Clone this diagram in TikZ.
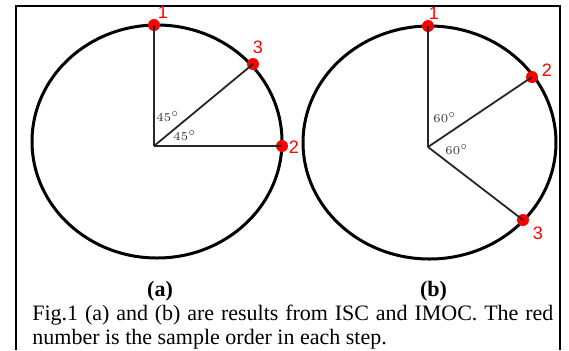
\documentclass[tikz,border=0pt]{standalone}
\usepackage{fontspec}
\setmainfont{Liberation Serif}
\newfontfamily\numfont{Liberation Sans}
\usepackage{xcolor}
\usetikzlibrary{positioning}

\begin{document}
\begin{tikzpicture}[x=0.5pt, y=-0.5pt]
    % Define styles
    \tikzstyle{rim} = [draw=black, line width=1.5pt]
    \tikzstyle{spoke} = [draw=black!85, line width=0.9pt]
    \tikzstyle{dot} = [circle, fill=red, inner sep=0pt, minimum size=6pt]
    \tikzstyle{num} = [text=red, font=\numfont\fontsize{9}{9}\selectfont, inner sep=0pt]
    \tikzstyle{angle} = [font=\fontsize{6.5}{6.5}\selectfont, text=black!80, inner sep=0pt]
    \tikzstyle{sub} = [anchor=base, font=\bfseries\fontsize{11}{12}\selectfont, inner sep=0pt]

    \useasboundingbox (0,0) rectangle (569,350);

    % Frame
    \draw[line width=1pt] (16,350) -- (16,5.5) -- (560,5.5) -- (560,350);

    % Panel (a)
    \draw[rim] (157,141.5) ellipse [x radius=125, y radius=116.5];
    \coordinate (oa) at (154,146);
    \node[dot] (a1) at (154,25) {};
    \node[dot] (a2) at (282,146) {};
    \node[dot] (a3) at (253,64) {};
    \draw[spoke] (oa) -- (a1.center);
    \draw[spoke] (oa) -- (a2.center);
    \draw[spoke] (oa) -- (a3.center);
    \node[num] (la1) at (163,12) {1};
    \node[num] (la2) at (294,147) {2};
    \node[num] (la3) at (258,47) {3};
    \node[angle] (ta1) at (168,117) {$45^\circ$};
    \node[angle] (ta2) at (185,136) {$45^\circ$};
    \node[sub] (capa) at (160,296) {(a)};

    % Panel (b)
    \draw[rim] (429.5,142.5) ellipse [x radius=126.5, y radius=116.5];
    \coordinate (ob) at (428,147);
    \node[dot] (b1) at (428,26) {};
    \node[dot] (b2) at (532,77) {};
    \node[dot] (b3) at (523,220) {};
    \draw[spoke] (ob) -- (b1.center);
    \draw[spoke] (ob) -- (b2.center);
    \draw[spoke] (ob) -- (b3.center);
    \node[num] (lb1) at (434,13) {1};
    \node[num] (lb2) at (547,70) {2};
    \node[num] (lb3) at (538,233) {3};
    \node[angle] (tb1) at (445,118) {$60^\circ$};
    \node[angle] (tb2) at (457,150) {$60^\circ$};
    \node[sub] (capb) at (433.5,296) {(b)};

    % Caption
    \node[anchor=base west, inner sep=0pt, text width=260.5pt, align=justify,
          font=\fontsize{11}{12.3}\selectfont] (caption) at (32,320)
        {Fig.1 (a) and (b) are results from ISC and IMOC. The red number is the sample order in each step.};
\end{tikzpicture}
\end{document}
